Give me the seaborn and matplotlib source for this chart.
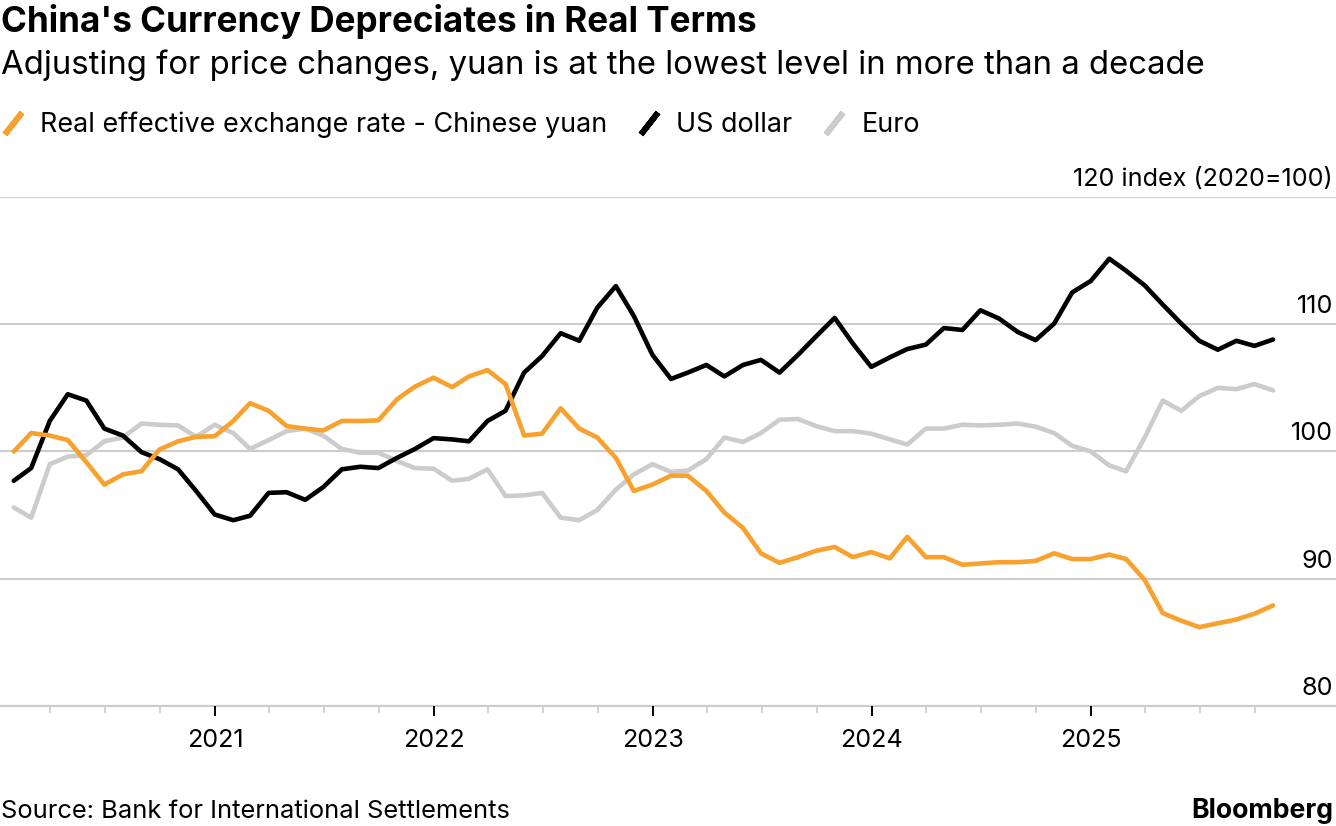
import numpy as np
import pandas as pd
import seaborn as sns
import matplotlib.pyplot as plt
import matplotlib.dates as mdates
import matplotlib.transforms as mtransforms
from matplotlib.lines import Line2D

# monthly REER index (2020=100), Jan 2020 - Oct 2025
months = pd.date_range("2020-01-31", periods=70, freq="ME")

yuan = [100.0, 101.45, 101.25, 100.9, 99.16, 97.4, 98.2, 98.45, 100.16, 100.8, 101.15, 101.2,
        102.4, 103.8, 103.2, 102.0, 101.8, 101.65, 102.4, 102.4, 102.45, 104.1, 105.1, 105.8,
        105.06, 105.9, 106.4, 105.3, 101.26, 101.4, 103.4, 101.8, 101.1, 99.5, 96.9, 97.4,
        98.1, 98.1, 96.9, 95.2, 94.0, 92.0, 91.25, 91.7, 92.2, 92.5, 91.7, 92.1,
        91.6, 93.3, 91.7, 91.7, 91.1, 91.2, 91.3, 91.3, 91.4, 92.0, 91.55, 91.55,
        91.9, 91.55, 89.9, 87.3, 86.7, 86.2, 86.5, 86.8, 87.25, 87.9]

dollar = [97.7, 98.7, 102.4, 104.5, 104.0, 101.8, 101.25, 99.95, 99.4, 98.6, 96.9, 95.05,
          94.6, 94.95, 96.75, 96.8, 96.2, 97.2, 98.6, 98.8, 98.7, 99.5, 100.2, 101.05,
          100.95, 100.8, 102.4, 103.2, 106.2, 107.5, 109.3, 108.7, 111.3, 113.0, 110.65, 107.6,
          105.7, 106.2, 106.8, 105.9, 106.8, 107.2, 106.2, 107.6, 109.05, 110.5, 108.5, 106.65,
          107.4, 108.05, 108.4, 109.7, 109.55, 111.1, 110.45, 109.4, 108.75, 110.05, 112.5, 113.4,
          115.15, 114.2, 113.05, 111.55, 110.05, 108.7, 108.0, 108.7, 108.3, 108.8]

euro = [95.6, 94.8, 99.0, 99.6, 99.7, 100.8, 101.1, 102.2, 102.1, 102.05, 101.15, 102.1,
        101.45, 100.2, 100.9, 101.6, 101.8, 101.25, 100.2, 99.9, 99.9, 99.25, 98.7, 98.65,
        97.7, 97.85, 98.6, 96.5, 96.55, 96.75, 94.8, 94.6, 95.4, 97.0, 98.2, 99.0,
        98.4, 98.5, 99.4, 101.1, 100.75, 101.45, 102.5, 102.55, 102.0, 101.6, 101.6, 101.4,
        100.95, 100.55, 101.8, 101.8, 102.1, 102.05, 102.1, 102.2, 101.95, 101.45, 100.45, 100.0,
        98.9, 98.45, 101.1, 104.0, 103.2, 104.35, 105.0, 104.9, 105.3, 104.8]

series_names = ["Real effective exchange rate - Chinese yuan", "US dollar", "Euro"]
series_colors = ["#F8A12F", "#000000", "#CCCCCC"]
y_ticks = [80, 90, 100, 110, 120]
year_ticks = pd.to_datetime(["2021-01-01", "2022-01-01", "2023-01-01", "2024-01-01", "2025-01-01"])
quarter_ticks = pd.date_range("2020-04-01", "2025-10-01", freq="QS")

title = "China's Currency Depreciates in Real Terms"
subtitle = "Adjusting for price changes, yuan is at the lowest level in more than a decade"
source = "Source: Bank for International Settlements"

sns.set_theme(style="white")
FONT = ["Inter", "DejaVu Sans"]
plt.rcParams["font.family"] = FONT
plt.rcParams["text.color"] = "#000000"
plt.rcParams["xtick.color"] = "#000000"

df = pd.DataFrame({"date": np.tile(months, 3),
                   "value": yuan + dollar + euro,
                   "series": np.repeat(series_names, len(months))})

fig = plt.figure(figsize=(13.36, 8.26), dpi=100)
renderer = fig.canvas.get_renderer()


def fit_size(s, target_px, weight="normal"):
    # font size that makes s about target_px wide
    t = fig.text(0, 0, s, fontsize=20, fontweight=weight)
    w = t.get_window_extent(renderer).width
    t.remove()
    return 20 * target_px / w


title_fs = fit_size(title, 757, "bold")
sub_fs = fit_size(subtitle, 1205)
leg_fs = fit_size(series_names[0], 566)
src_fs = fit_size(source, 509)
brand_fs = fit_size("Bloomberg", 143, "bold")
tick_fs = fit_size("120 index (2020=100)", 260)

ax = fig.add_axes([0, 1 - 706 / 826, 1, (706 - 197) / 826])

palette = dict(zip(series_names, series_colors))
# euro drawn first so it sits beneath
sns.lineplot(data=df, x="date", y="value", hue="series", hue_order=series_names[::-1],
             palette=palette, linewidth=3.3, ax=ax, legend=False)

ax.set_xlim(pd.Timestamp("2020-01-08"), pd.Timestamp("2026-02-13"))
ax.set_ylim(80, 120)
ax.set_xlabel("")
ax.set_ylabel("")

for sp in ["top", "left", "right"]:
    ax.spines[sp].set_visible(False)
ax.spines["bottom"].set_color("#CCCCCC")
ax.spines["bottom"].set_linewidth(1.5)
ax.spines["bottom"].set_zorder(0)

ax.set_yticks(y_ticks)
ax.yaxis.grid(True, color="#CCCCCC", linewidth=1.5)
ax.set_axisbelow(True)
ax.tick_params(axis="y", length=0, labelleft=False)

ax.set_xticks(year_ticks)
ax.set_xticks(quarter_ticks[quarter_ticks.month != 1], minor=True)
ax.xaxis.set_major_formatter(mdates.DateFormatter("%Y"))
ax.tick_params(axis="x", which="major", length=7.5, width=1.4, color="#000000",
               labelsize=tick_fs, labelcolor="#000000", pad=9, bottom=True)
ax.tick_params(axis="x", which="minor", length=5, width=1.2, color="#CCCCCC", bottom=True)

# right-side value labels sitting above the gridlines
lab_tr = mtransforms.offset_copy(ax.get_yaxis_transform(), fig=fig, x=-3, y=11, units="dots")
for v in y_ticks:
    txt = "120 index (2020=100)" if v == 120 else str(v)
    ax.text(1.0, v, txt, transform=lab_tr, ha="right", va="baseline", fontsize=tick_fs, color="#000000")

fig.text(0.001, 1 - 32 / 826, title, fontsize=title_fs, fontweight="bold", va="baseline", ha="left")
fig.text(0.001, 1 - 74 / 826, subtitle, fontsize=sub_fs, va="baseline", ha="left")

handles = [Line2D([], [], linestyle="none", marker=(2, 2, -38), markersize=20,
                  markeredgewidth=4.2, color=c) for c in series_colors]
fig.legend(handles, series_names, loc="center left", bbox_to_anchor=(0.0, 1 - 125 / 826),
           ncol=3, frameon=False, fontsize=leg_fs, handlelength=1.0, handletextpad=0.5,
           columnspacing=1.05, borderpad=0, borderaxespad=0)

fig.text(0.001, 1 - 818 / 826, source, fontsize=src_fs, va="baseline", ha="left")
fig.text(0.998, 1 - 818 / 826, "Bloomberg", fontsize=brand_fs, fontweight="bold",
         va="baseline", ha="right")

fig.savefig("out.png", dpi=100)
